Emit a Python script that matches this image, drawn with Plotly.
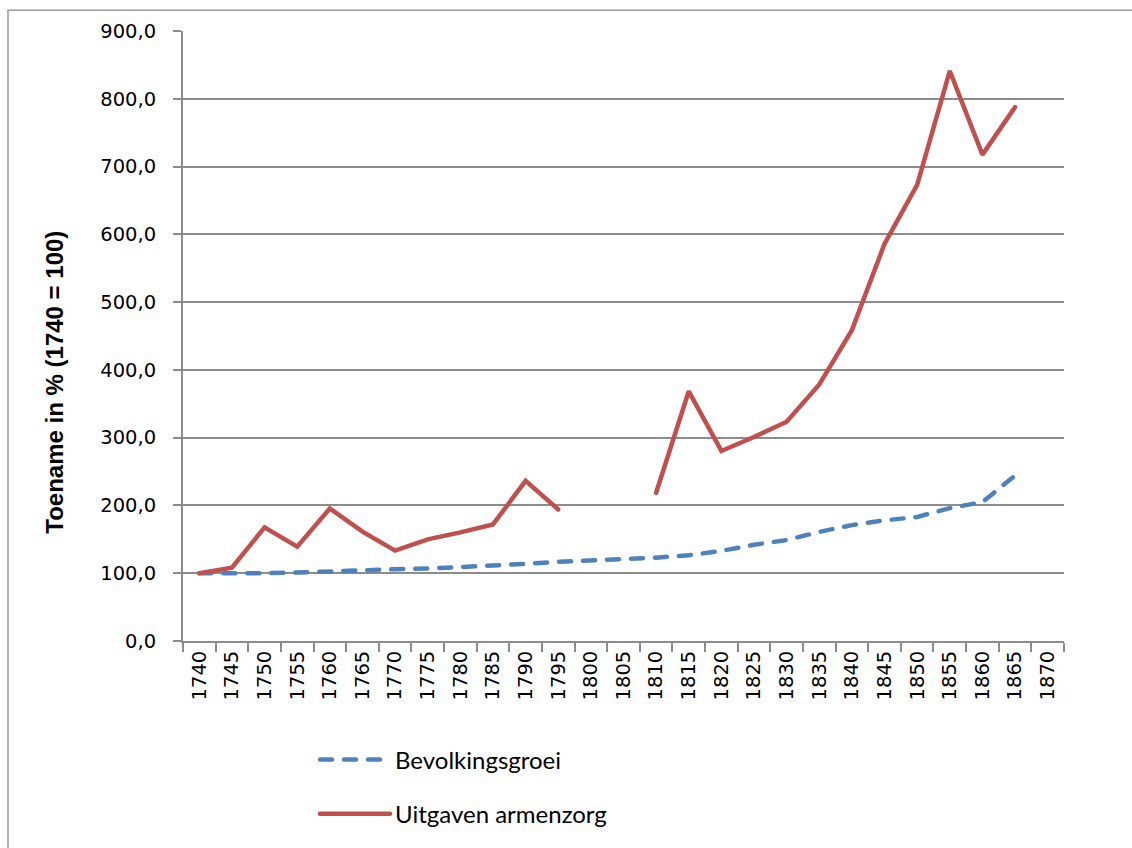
import plotly.graph_objects as go

years = [str(y) for y in range(1740, 1875, 5)]

bevolkingsgroei = [100, 99.7, 100, 101, 103, 104.4, 105.9, 106.9, 108.8, 110.8, 113.7, 116.7,
                   118.6, 121, 123, 126.5, 133, 142, 149, 161, 171, 178, 183, 196, 205, 244, None]

armenzorg = [100, 108.3, 167.6, 139.2, 195.6, 161.3, 133.3, 150, 160.3, 172, 236.3, 194.1,
             None, None, 218.7, 368.4, 280.4, 301, 323.5, 378.5, 458.6, 586, 673, 841, 717.6, 787.7, None]

names = ["Bevolkingsgroei", "Uitgaven armenzorg"]
colors = ["#4F81BD", "#C0504D"]

L, R, T, B = 183, 1064, 31, 645
W, H = 1132, 848

fig = go.Figure()
fig.add_trace(go.Scatter(x=years, y=bevolkingsgroei, mode="lines", name=names[0],
                         legendgroup="g1",
                         line=dict(color=colors[0], width=4.5, dash="12px,12px"),
                         connectgaps=False))
fig.add_trace(go.Scatter(x=years, y=armenzorg, mode="lines", name=names[1],
                         legendgroup="g2",
                         line=dict(color=colors[1], width=4.5),
                         connectgaps=False))

def px_x(p):
    return (p - L) / (R - L)

def px_y(p):
    return (B - p) / (B - T)

fig.update_layout(
    width=W, height=H,
    margin=dict(l=L, r=W - R, t=T, b=H - B),
    paper_bgcolor="white", plot_bgcolor="white",
    separators=",.",
    showlegend=True,
    legend=dict(x=px_x(315), y=px_y(742), xanchor="left", yanchor="top",
                font=dict(family="Lato, Open Sans, sans-serif", size=24, color="#000000"),
                itemwidth=70, tracegroupgap=20, bgcolor="rgba(0,0,0,0)"),
    xaxis=dict(type="category", range=[-0.5, len(years) - 0.5],
               tickmode="array", tickvals=years, ticktext=years,
               tickson="boundaries", ticks="outside", ticklen=9, tickwidth=1.5,
               tickcolor="#8c8c8c", showline=True, linecolor="#8c8c8c", linewidth=2,
               showgrid=False, tickangle=-90,
               tickfont=dict(family="DejaVu Sans", size=19.5, color="#000000")),
    yaxis=dict(range=[0, 900], tickmode="linear", tick0=0, dtick=100,
               tickformat=".1f", ticks="outside", ticklen=8, tickwidth=1.5,
               tickcolor="#8c8c8c", showline=True, linecolor="#8c8c8c", linewidth=2,
               showgrid=True, gridcolor="#8c8c8c", gridwidth=2, zeroline=False,
               tickfont=dict(family="DejaVu Sans", size=19.5, color="#000000"),
               ticklabelstandoff=13),
    annotations=[dict(text="<b>Toename in % (1740 = 100)</b>", textangle=-90,
                      x=px_x(55), y=px_y(385), xref="paper", yref="paper",
                      xanchor="center", yanchor="middle", showarrow=False,
                      font=dict(family="Liberation Sans Narrow, Liberation Sans", size=24, color="#000000"))],
    shapes=[dict(type="rect", xref="paper", yref="paper",
                 x0=px_x(8), x1=px_x(1160), y0=px_y(880), y1=px_y(10),
                 line=dict(color="#9a9a9a", width=1.5), fillcolor="rgba(0,0,0,0)", layer="below")],
)

post = (
    "document.body.style.margin='0px';document.body.style.padding='0px';"
    "document.querySelectorAll('path.js-line, .legendlines path').forEach(function(p){"
    "p.style.strokeLinecap='round';});"
)

fig.write_html("out.html", config={"displayModeBar": False}, post_script=post)
